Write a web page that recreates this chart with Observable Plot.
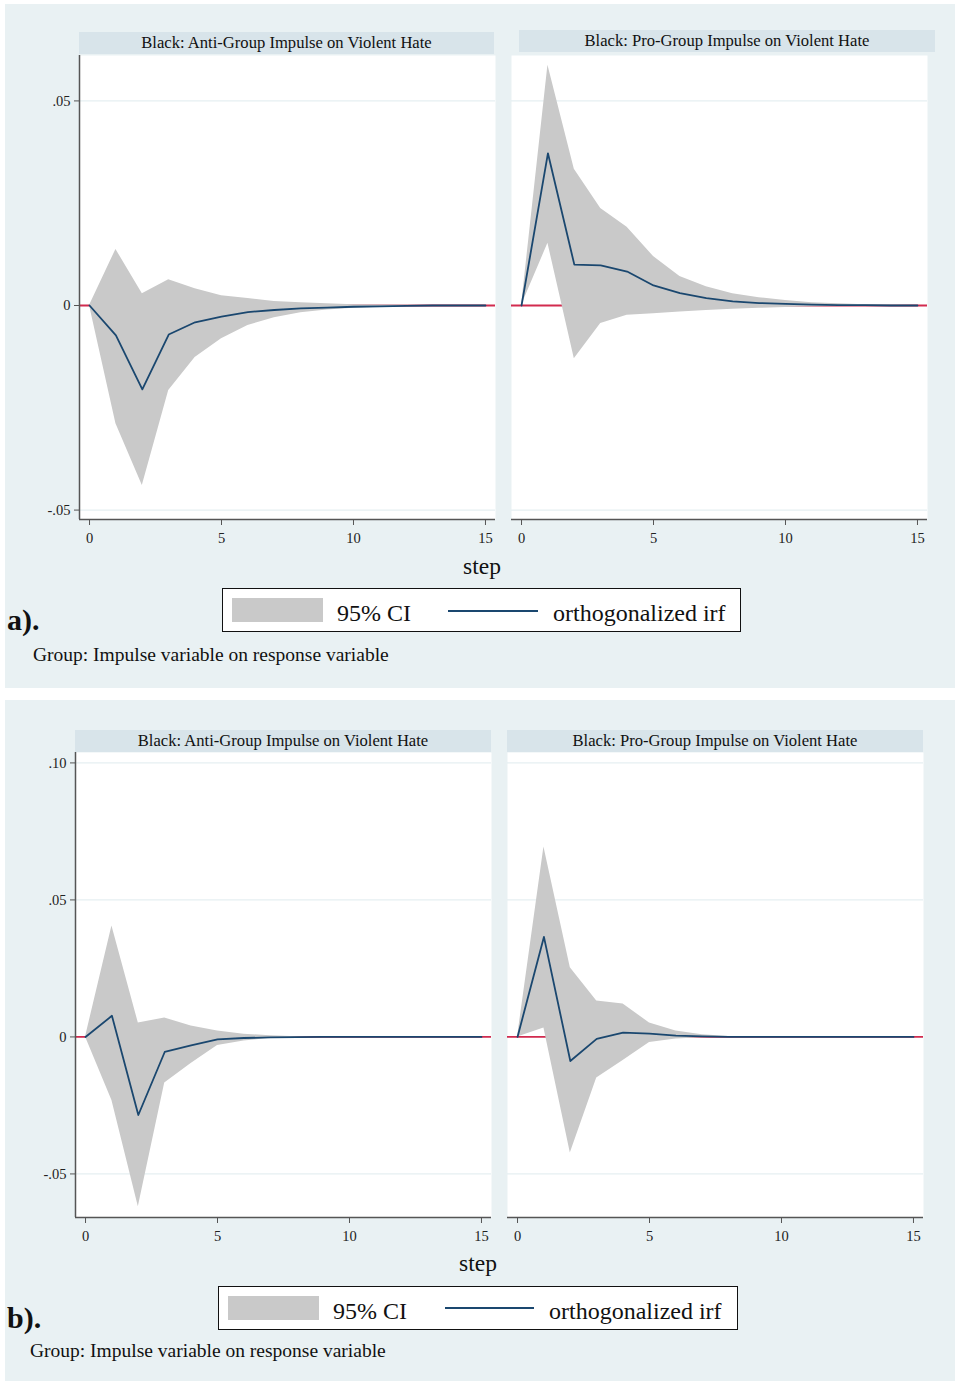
<!DOCTYPE html>
<html><head><meta charset="utf-8">
<script src="https://cdn.jsdelivr.net/npm/d3@7"></script>
<script src="https://cdn.jsdelivr.net/npm/@observablehq/plot@0.6"></script>
<style>
body{margin:0;background:#fff;font-family:"Liberation Serif","Times New Roman",serif;color:#111;}
#root{position:relative;width:956px;height:1381px;overflow:hidden;}
.abs{position:absolute;white-space:nowrap;line-height:1;}
.bg{background:#e9f1f3;}
.strip{background:#d8e4ea;text-align:center;font-size:16.6px;line-height:22px;height:22px;color:#111;}
.legend{background:#fff;border:1.5px solid #111;box-sizing:border-box;}
.swatch{background:#c9c9c9;}
.lline{background:#1a476f;height:2px;}
.ltext{font-size:24px;}
.steplab{font-size:23.5px;text-align:center;width:200px;}
.panel{font-size:30px;font-weight:bold;}
.cap{font-size:19.5px;}
</style></head>
<body>
<div id="root">
  <!-- panel a -->
  <div class="abs bg" style="left:5px;top:4px;width:950px;height:684px;"></div>
  <div class="abs strip" style="left:79px;top:32px;width:415px;">Black: Anti-Group Impulse on Violent Hate</div>
  <div class="abs strip" style="left:519px;top:29.5px;width:416px;">Black: Pro-Group Impulse on Violent Hate</div>
  <div class="abs steplab" style="left:382px;top:555.3px;">step</div>
  <div class="abs legend" style="left:222px;top:588px;width:519px;height:44px;"></div>
  <div class="abs swatch" style="left:232px;top:598px;width:91px;height:24px;"></div>
  <div class="abs ltext" style="left:337px;top:601.4px;">95% CI</div>
  <div class="abs lline" style="left:448px;top:610px;width:90px;"></div>
  <div class="abs ltext" style="left:553px;top:601.4px;">orthogonalized irf</div>
  <div class="abs panel" style="left:7px;top:604.9px;">a).</div>
  <div class="abs cap" style="left:33px;top:644.7px;">Group: Impulse variable on response variable</div>

  <!-- panel b -->
  <div class="abs bg" style="left:5px;top:700px;width:950px;height:681px;"></div>
  <div class="abs strip" style="left:75px;top:730px;width:416px;">Black: Anti-Group Impulse on Violent Hate</div>
  <div class="abs strip" style="left:507px;top:730px;width:416px;">Black: Pro-Group Impulse on Violent Hate</div>
  <div class="abs steplab" style="left:378px;top:1252.3px;">step</div>
  <div class="abs legend" style="left:218px;top:1286px;width:520px;height:44px;"></div>
  <div class="abs swatch" style="left:228px;top:1296px;width:91px;height:24px;"></div>
  <div class="abs ltext" style="left:333px;top:1299.4px;">95% CI</div>
  <div class="abs lline" style="left:445px;top:1307px;width:89px;"></div>
  <div class="abs ltext" style="left:549px;top:1299.4px;">orthogonalized irf</div>
  <div class="abs panel" style="left:7px;top:1302.9px;">b).</div>
  <div class="abs cap" style="left:30px;top:1340.7px;">Group: Impulse variable on response variable</div>
</div>
<script>
// ---- data ----
const steps = [0,1,2,3,4,5,6,7,8,9,10,11,12,13,14,15];
const xTicks = [0,5,10,15];
const aYTicks = [-0.05, 0, 0.05];
const bYTicks = [-0.05, 0, 0.05, 0.10];

// panel a: anti-group impulse
const aAntiIrf = [0,-0.0073,-0.0205,-0.0071,-0.0041,-0.0027,-0.0016,-0.0011,-0.0007,-0.0005,-0.0003,-0.0002,-0.0001,0,0,0];
const aAntiLo  = [0,-0.0289,-0.0440,-0.0208,-0.0127,-0.0081,-0.0049,-0.0030,-0.0018,-0.0011,-0.0007,-0.0004,-0.0002,-0.0001,0,0];
const aAntiHi  = [0,0.0137,0.0029,0.0063,0.0041,0.0024,0.0017,0.0010,0.0007,0.0004,0.0002,0.0001,0.0001,0,0,0];
// panel a: pro-group impulse
const aProIrf = [0,0.0372,0.0100,0.0098,0.0083,0.0049,0.0030,0.0018,0.0010,0.0006,0.0004,0.0002,0.0001,0.0001,0,0];
const aProLo  = [0,0.0152,-0.0130,-0.0044,-0.0024,-0.0020,-0.0016,-0.0012,-0.0009,-0.0007,-0.0005,-0.0003,-0.0002,-0.0001,0,0];
const aProHi  = [0,0.0587,0.0333,0.0237,0.0191,0.0120,0.0071,0.0046,0.0029,0.0019,0.0012,0.0007,0.0004,0.0002,0.0001,0];
// panel b: anti-group impulse
const bAntiIrf = [0,0.0077,-0.0285,-0.0055,-0.0031,-0.0009,-0.0004,-0.0002,-0.0001,0,0,0,0,0,0,0];
const bAntiLo  = [0,-0.0232,-0.0620,-0.0168,-0.0097,-0.0031,-0.0015,-0.0005,-0.0002,0,0,0,0,0,0,0];
const bAntiHi  = [0,0.0405,0.0051,0.0069,0.0040,0.0022,0.0010,0.0004,0.0001,0,0,0,0,0,0,0];
// panel b: pro-group impulse
const bProIrf = [0,0.0365,-0.0088,-0.0007,0.0016,0.0012,0.0005,0.0002,0,0,0,0,0,0,0,0];
const bProLo  = [0,0.0033,-0.0424,-0.0150,-0.0086,-0.0020,-0.0008,-0.0003,0,0,0,0,0,0,0,0];
const bProHi  = [0,0.0693,0.0252,0.0131,0.0120,0.0051,0.0022,0.0008,0.0002,0,0,0,0,0,0,0];

// ---- drawing ----
const xDomain = [-0.38, 15.38];
const aYDomain = [-0.0523, 0.0611];
const bYDomain = [-0.0659, 0.1038];
const fmt = d => d === 0 ? "0" : d.toFixed(2).replace("0.", ".");

function subplot(cfg) {
  const data = steps.map((s, i) => ({step: s, irf: cfg.irf[i], lo: cfg.lo[i], hi: cfg.hi[i]}));
  const svg = Plot.plot({
    width: cfg.ml + 416 + 6,
    height: cfg.plotH + 40,
    marginLeft: cfg.ml, marginRight: 6, marginTop: 0, marginBottom: 40,
    x: {domain: xDomain, axis: null},
    y: {domain: cfg.yDomain, axis: null},
    style: {background: "transparent", overflow: "visible", maxWidth: "none", fontFamily: "'Liberation Serif','Times New Roman',serif", fontSize: "14.5px", color: "#222"},
    marks: [
      Plot.frame({fill: "#fff", stroke: "none"}),
      Plot.gridY(cfg.yTicks, {stroke: "#e6eff2", strokeOpacity: 1, strokeWidth: 1.2}),
      Plot.ruleY([0], {stroke: "#d22b4f", strokeWidth: 1.8}),
      Plot.areaY(data, {x: "step", y1: "lo", y2: "hi", fill: "#c9c9c9"}),
      Plot.lineY(data, {x: "step", y: "irf", stroke: "#1a476f", strokeWidth: 1.8}),
      Plot.ruleY([cfg.yDomain[0]], {stroke: "#555", strokeWidth: 1.5}),
      Plot.axisX({ticks: xTicks, tickSize: 6, tickPadding: 7, tickFormat: d => String(d), label: null, fontSize: 14.5, stroke: "#555"}),
      cfg.showY ? Plot.ruleX([xDomain[0]], {stroke: "#555", strokeWidth: 1.5}) : null,
      cfg.showY ? Plot.axisY({ticks: cfg.yTicks, tickSize: 5, tickPadding: 4, tickFormat: fmt, label: null, fontSize: 14.5, stroke: "#555"}) : null
    ]
  });
  svg.style.position = "absolute";
  svg.style.left = cfg.left + "px";
  svg.style.top = cfg.top + "px";
  document.getElementById("root").appendChild(svg);
}

subplot({irf: aAntiIrf, lo: aAntiLo, hi: aAntiHi, yDomain: aYDomain, yTicks: aYTicks, showY: true,  ml: 79, left: 0,   top: 55,  plotH: 464});
subplot({irf: aProIrf,  lo: aProLo,  hi: aProHi,  yDomain: aYDomain, yTicks: aYTicks, showY: false, ml: 10, left: 501, top: 55,  plotH: 464});
subplot({irf: bAntiIrf, lo: bAntiLo, hi: bAntiHi, yDomain: bYDomain, yTicks: bYTicks, showY: true,  ml: 75, left: 0,   top: 752, plotH: 465});
subplot({irf: bProIrf,  lo: bProLo,  hi: bProHi,  yDomain: bYDomain, yTicks: bYTicks, showY: false, ml: 10, left: 497, top: 752, plotH: 465});
</script>
</body></html>
